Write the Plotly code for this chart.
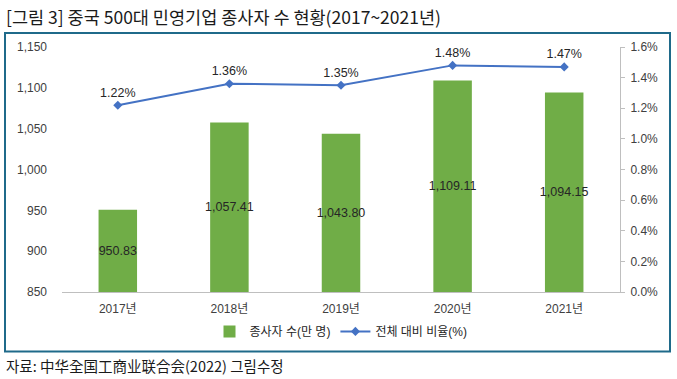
import plotly.graph_objects as go

categories = ["2017년", "2018년", "2019년", "2020년", "2021년"]
employees = [950.83, 1057.41, 1043.80, 1109.11, 1094.15]
ratio = [0.0122, 0.0136, 0.0135, 0.0148, 0.0147]
left_base = 850

W, H = 677, 379
ML, MR, MT, MB = 62, 57, 47, 86.5
PW, PH = W - ML - MR, H - MT - MB

def px_x(p):
    return (p - ML) / PW

def px_y(p):
    return (H - MB - p) / PH

font_main = "Liberation Sans, Noto Sans CJK KR, Arial, sans-serif"

fig = go.Figure()
fig.add_trace(go.Bar(
    x=categories,
    y=[v - left_base for v in employees],
    base=left_base,
    customdata=employees,
    name="종사자 수(만 명)",
    marker=dict(color="#70AD47", line=dict(width=0)),
    width=0.345,
    texttemplate="%{customdata:,.2f}",
    textposition="inside",
    insidetextanchor="middle",
    textangle=0,
    constraintext="none",
    textfont=dict(size=12.5, color="#262626", family=font_main),
    hovertemplate="%{x}: %{customdata:,.2f}<extra></extra>",
))
fig.add_trace(go.Scatter(
    x=categories,
    y=ratio,
    yaxis="y2",
    name="전체 대비 비율(%)",
    mode="lines+markers+text",
    line=dict(color="#4472C4", width=2),
    marker=dict(symbol="diamond", size=7, color="#4472C4"),
    text=[f"{r*100:.2f}%" for r in ratio],
    textposition="top center",
    textfont=dict(size=12.5, color="#262626", family=font_main),
    cliponaxis=False,
))

fig.update_layout(
    width=W, height=H,
    margin=dict(l=ML, r=MR, t=MT, b=MB),
    paper_bgcolor="white",
    plot_bgcolor="white",
    font=dict(family=font_main, color="#404040", size=12),
    uniformtext=dict(mode="show", minsize=12.5),
    showlegend=True,
    legend=dict(
        orientation="h", x=0.5, xanchor="center",
        y=px_y(332), yanchor="middle",
        font=dict(size=12, color="#262626", family=font_main),
        tracegroupgap=0,
    ),
    xaxis=dict(
        showline=True, linecolor="#BFBFBF", linewidth=1,
        ticks="", showgrid=False,
        ticklabelstandoff=6,
        tickfont=dict(size=12, color="#404040"),
    ),
    yaxis=dict(
        range=[850, 1150], dtick=50, tickformat=",",
        showgrid=False, showline=False, ticks="",
        ticklabelstandoff=14,
        tickfont=dict(size=12, color="#404040"),
        zeroline=False,
    ),
    yaxis2=dict(
        overlaying="y", side="right",
        range=[0, 0.016], dtick=0.002, tickformat=".1%",
        showgrid=False, showline=True, linecolor="#BFBFBF", linewidth=1,
        ticks="outside", ticklen=4, tickcolor="#BFBFBF",
        ticklabelstandoff=3,
        tickfont=dict(size=12, color="#404040"),
        zeroline=False,
    ),
)

fig.add_shape(
    type="rect", xref="paper", yref="paper",
    x0=px_x(5), x1=px_x(670), y0=px_y(352), y1=px_y(33),
    line=dict(color="#1F6A8A", width=2), fillcolor="rgba(0,0,0,0)",
    layer="above",
)

fig.add_annotation(
    text="[그림 3] 중국 500대 민영기업 종사자 수 현황(2017~2021년)",
    xref="paper", yref="paper", x=px_x(4), y=px_y(16),
    xanchor="left", yanchor="middle", showarrow=False,
    font=dict(size=17.5, color="#1a1a1a", family="Noto Sans CJK KR, sans-serif"),
)
fig.add_annotation(
    text="자료: 中华全国工商业联合会(2022) 그림수정",
    xref="paper", yref="paper", x=px_x(4), y=px_y(366),
    xanchor="left", yanchor="middle", showarrow=False,
    font=dict(size=14.5, color="#1a1a1a", family="Noto Sans CJK KR, sans-serif"),
)

fig.write_html("out.html", config={"displayModeBar": False},
               post_script="document.body.style.margin='0';")
